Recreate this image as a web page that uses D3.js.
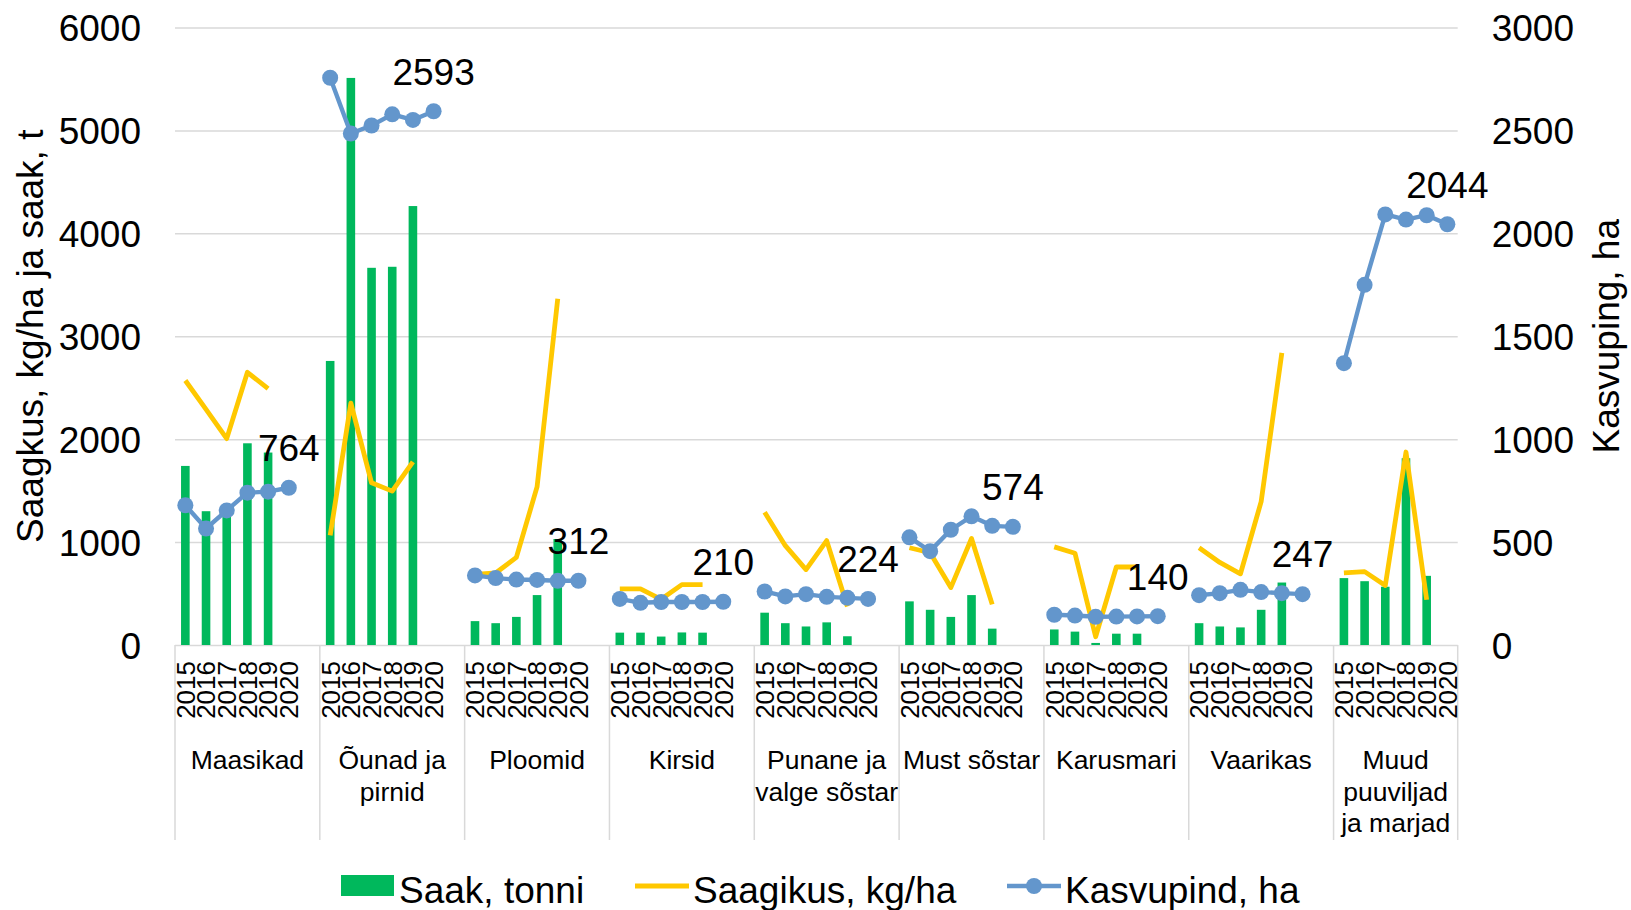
<!DOCTYPE html>
<html><head><meta charset="utf-8">
<script src="https://cdn.jsdelivr.net/npm/d3@7"></script>
<style>
body{margin:0;background:#fff}
svg text{font-family:"Liberation Sans",Arial,Helvetica,sans-serif;fill:#000}
</style>
</head><body>
<svg id="c" width="1631" height="910"></svg>
<script>
// ---- data ----
const categories = ["Maasikad", "Õunad ja pirnid", "Ploomid", "Kirsid", "Punane ja valge sõstar",
  "Must sõstar", "Karusmari", "Vaarikas", "Muud puuviljad ja marjad"];
const years = ["2015", "2016", "2017", "2018", "2019", "2020"];
// Saak, tonni (2015-2019)
const saak = [
  [1740, 1300, 1280, 1960, 1870],
  [2760, 5510, 3665, 3675, 4265],
  [232, 212, 273, 485, 1030],
  [120, 120, 82, 122, 120],
  [314, 212, 180, 220, 85],
  [424, 342, 273, 485, 159],
  [151, 130, 20, 110, 110],
  [212, 180, 171, 342, 607],
  [650, 620, 566, 1815, 672]
];
// Saagikus, kg/ha (2015-2019)
const saagikus = [
  [2570, 2290, 2005, 2650, 2490],
  [1065, 2350, 1576, 1495, 1780],
  [685, 700, 851, 1536, 3365],
  [546, 546, 444, 587, 587],
  [1291, 965, 733, 1014, 375],
  [945, 896, 558, 1035, 395],
  [953, 892, 80, 758, 758],
  [945, 802, 692, 1393, 2838],
  [700, 713, 578, 1875, 440]
];
// Kasvupind, ha (2015-2020)
const kasvupind = [
  [679, 566, 654, 740, 745, 764],
  [2756, 2485, 2524, 2578, 2551, 2593],
  [338, 325, 318, 316, 312, 312],
  [224, 205, 209, 209, 209, 210],
  [260, 236, 247, 234, 229, 224],
  [523, 456, 560, 625, 579, 574],
  [147, 143, 137, 138, 139, 140],
  [242, 252, 268, 257, 252, 247],
  [1369, 1750, 2092, 2067, 2088, 2044]
];
const leftTicks = [0, 1000, 2000, 3000, 4000, 5000, 6000];
const rightTicks = [0, 500, 1000, 1500, 2000, 2500, 3000];
const leftTitle = "Saagkus, kg/ha ja saak, t";
const rightTitle = "Kasvuping, ha";
const legendNames = ["Saak, tonni", "Saagikus, kg/ha", "Kasvupind, ha"];

// ---- layout ----
const COL_BAR = "#00b85c", COL_YEL = "#ffc800", COL_BLUE = "#6396cc", COL_GRID = "#d9d9d9";
const X0 = 175, X1 = 1457.7, Y0 = 645, Y1 = 27.5;
const BIG = "37px";

const slots = [];
categories.forEach((c, g) => {
  years.forEach(y => slots.push(g + "|" + y));
  if (g < categories.length - 1) slots.push(g + "|_");
});

const x = d3.scaleBand().domain(slots).range([X0, X1]);
const bw = x.bandwidth();
const cx = k => x(k) + bw / 2;
const yL = d3.scaleLinear().domain([0, 6000]).range([Y0, Y1]);
const yR = d3.scaleLinear().domain([0, 3000]).range([Y0, Y1]);

const svg = d3.select("#c");

// gridlines
svg.append("g").attr("transform", `translate(${X0},0)`)
  .call(d3.axisLeft(yL).tickValues(leftTicks).tickSize(-(X1 - X0)).tickFormat(""))
  .call(g => g.select(".domain").remove())
  .call(g => g.selectAll("line").attr("stroke", COL_GRID).attr("stroke-width", 1.5));

// left axis labels
svg.append("g").attr("transform", `translate(${X0},0)`)
  .call(d3.axisLeft(yL).tickValues(leftTicks).tickSize(0).tickPadding(34).tickFormat(d3.format("d")))
  .call(g => g.select(".domain").remove())
  .call(g => g.selectAll("text").style("font-size", BIG).attr("dy", "0.36em"));

// right axis labels
svg.append("g").attr("transform", `translate(${X1},0)`)
  .call(d3.axisRight(yR).tickValues(rightTicks).tickSize(0).tickPadding(34).tickFormat(d3.format("d")))
  .call(g => g.select(".domain").remove())
  .call(g => g.selectAll("text").style("font-size", BIG).attr("dy", "0.36em"));

// category separators
const groupStarts = categories.map((c, g) => x(g + "|2015"));
const bounds = groupStarts.concat([X1]);
svg.append("g").selectAll("line").data(bounds).join("line")
  .attr("x1", d => d).attr("x2", d => d).attr("y1", Y0).attr("y2", 840)
  .attr("stroke", COL_GRID).attr("stroke-width", 1.5);

// year labels
const yearG = svg.append("g");
categories.forEach((c, g) => {
  years.forEach(yr => {
    yearG.append("text")
      .attr("transform", `translate(${cx(g + "|" + yr)},661) rotate(-90)`)
      .attr("text-anchor", "end").attr("dy", "0.36em")
      .style("font-size", "26px").text(yr);
  });
});

// category labels (wrapped to group width)
const catG = svg.append("g");
categories.forEach((c, g) => {
  const left = bounds[g], right = bounds[g + 1];
  const mid = (left + right) / 2, maxW = right - left;
  const t = catG.append("text").attr("text-anchor", "middle").style("font-size", "26.5px");
  const words = c.split(" ");
  let lines = [], cur = [];
  const probe = catG.append("text").style("font-size", "26.5px");
  words.forEach(w => {
    const test = cur.concat([w]).join(" ");
    probe.text(test);
    if (cur.length && probe.node().getComputedTextLength() > maxW) {
      lines.push(cur.join(" ")); cur = [w];
    } else cur.push(w);
  });
  lines.push(cur.join(" "));
  probe.remove();
  lines.forEach((ln, i) => {
    t.append("tspan").attr("x", mid).attr("y", 769 + i * 31.5).text(ln);
  });
});

// bars
const barW = 8.6;
const barData = [];
saak.forEach((arr, g) => arr.forEach((v, i) => barData.push({k: g + "|" + years[i], v})));
svg.append("g").selectAll("rect").data(barData).join("rect")
  .attr("x", d => cx(d.k) - barW / 2).attr("width", barW)
  .attr("y", d => yL(d.v)).attr("height", d => Y0 - yL(d.v))
  .attr("fill", COL_BAR);

// yellow lines
const lineY = d3.line().x(d => cx(d.k)).y(d => yL(d.v));
svg.append("g").selectAll("path").data(saagikus.map((arr, g) => arr.map((v, i) => ({k: g + "|" + years[i], v}))))
  .join("path").attr("d", lineY).attr("fill", "none")
  .attr("stroke", COL_YEL).attr("stroke-width", 4.8).attr("stroke-linejoin", "round");

// blue lines + markers
const lineB = d3.line().x(d => cx(d.k)).y(d => yR(d.v));
const blueData = kasvupind.map((arr, g) => arr.map((v, i) => ({k: g + "|" + years[i], v})));
const bg = svg.append("g");
bg.selectAll("path").data(blueData).join("path").attr("d", lineB).attr("fill", "none")
  .attr("stroke", COL_BLUE).attr("stroke-width", 4.4).attr("stroke-linejoin", "round");
bg.selectAll("circle").data(blueData.flat()).join("circle")
  .attr("cx", d => cx(d.k)).attr("cy", d => yR(d.v)).attr("r", 8).attr("fill", COL_BLUE);

// data labels (last value)
svg.append("g").selectAll("text").data(blueData.map(a => a[a.length - 1])).join("text")
  .attr("x", d => cx(d.k)).attr("y", d => yR(d.v) - 40).attr("dy", "0.36em")
  .attr("text-anchor", "middle").style("font-size", BIG).text(d => d.v);

// axis titles
svg.append("text").attr("transform", `translate(43,${(Y0 + Y1) / 2}) rotate(-90)`)
  .attr("text-anchor", "middle").style("font-size", BIG).text(leftTitle);
svg.append("text").attr("transform", `translate(1619,${(Y0 + Y1) / 2}) rotate(-90)`)
  .attr("text-anchor", "middle").style("font-size", BIG).text(rightTitle);

// legend
const lg = svg.append("g");
lg.append("rect").attr("x", 341).attr("y", 875).attr("width", 53).attr("height", 21).attr("fill", COL_BAR);
lg.append("text").attr("x", 399).attr("y", 903).style("font-size", BIG).text(legendNames[0]);
lg.append("line").attr("x1", 635).attr("x2", 689).attr("y1", 886).attr("y2", 886)
  .attr("stroke", COL_YEL).attr("stroke-width", 4.8);
lg.append("text").attr("x", 693).attr("y", 903).style("font-size", BIG).text(legendNames[1]);
lg.append("line").attr("x1", 1007).attr("x2", 1061).attr("y1", 886).attr("y2", 886)
  .attr("stroke", COL_BLUE).attr("stroke-width", 4.4);
lg.append("circle").attr("cx", 1034).attr("cy", 886).attr("r", 8).attr("fill", COL_BLUE);
lg.append("text").attr("x", 1065).attr("y", 903).style("font-size", BIG).text(legendNames[2]);
</script>
</body></html>
